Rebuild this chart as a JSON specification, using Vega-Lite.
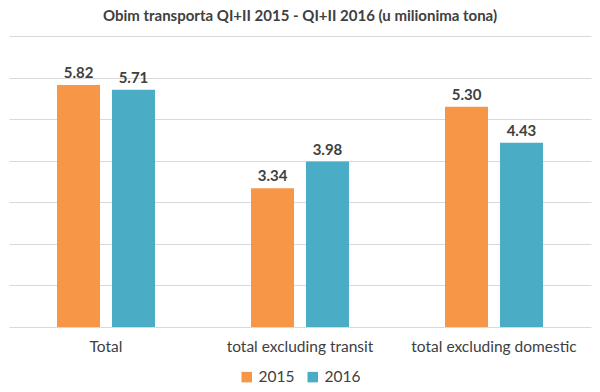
{
  "$schema": "https://vega.github.io/schema/vega-lite/v6.json",
  "width": 582,
  "height": 291,
  "autosize": {"type": "none"},
  "padding": {"left": 9, "top": 36, "right": 9, "bottom": 65},
  "background": "white",
  "title": {
    "text": "Obim transporta QI+II 2015 - QI+II 2016 (u milionima tona)",
    "fontSize": 15,
    "font": "Lato",
    "fontWeight": "bold",
    "color": "#404040",
    "offset": 12
  },
  "config": {
    "view": {"stroke": null},
    "legend": {"layout": {"bottom": {"anchor": "middle"}}}
  },
  "data": {
    "values": [
      {"category": "Total", "year": "2015", "value": 5.82},
      {"category": "Total", "year": "2016", "value": 5.71},
      {"category": "total excluding transit", "year": "2015", "value": 3.34},
      {"category": "total excluding transit", "year": "2016", "value": 3.98},
      {"category": "total excluding domestic", "year": "2015", "value": 5.30},
      {"category": "total excluding domestic", "year": "2016", "value": 4.43}
    ]
  },
  "encoding": {
    "x": {
      "field": "category",
      "type": "nominal",
      "sort": ["Total", "total excluding transit", "total excluding domestic"],
      "scale": {"paddingInner": 0.495, "paddingOuter": 0.2475},
      "axis": {
        "title": null,
        "labelAngle": 0,
        "domain": false,
        "ticks": false,
        "labelPadding": 12,
        "labelFontSize": 15.5,
        "labelFont": "Lato",
        "labelColor": "#404040"
      }
    },
    "xOffset": {
      "field": "year",
      "type": "nominal",
      "scale": {"paddingInner": 0.218, "paddingOuter": 0}
    },
    "y": {
      "field": "value",
      "type": "quantitative",
      "scale": {"domain": [0, 7], "nice": false},
      "axis": {
        "title": null,
        "labels": false,
        "ticks": false,
        "domain": false,
        "values": [0, 1, 2, 3, 4, 5, 6, 7],
        "gridColor": "#d9d9d9"
      }
    }
  },
  "layer": [
    {
      "mark": {"type": "bar"},
      "encoding": {
        "color": {
          "field": "year",
          "type": "nominal",
          "scale": {"range": ["#F79646", "#4BACC6"]},
          "legend": {
            "title": null,
            "orient": "bottom",
            "direction": "horizontal",
            "symbolType": "square",
            "symbolSize": 110,
            "symbolStrokeWidth": 0,
            "labelFontSize": 15.5,
            "labelFont": "Lato",
            "labelColor": "#404040",
            "offset": 14
          }
        }
      }
    },
    {
      "mark": {
        "type": "text",
        "dy": -12,
        "fontSize": 15,
        "font": "Lato",
        "fontWeight": "bold"
      },
      "encoding": {
        "text": {"field": "value", "type": "quantitative", "format": ".2f"},
        "color": {"value": "#404040"}
      }
    }
  ]
}
